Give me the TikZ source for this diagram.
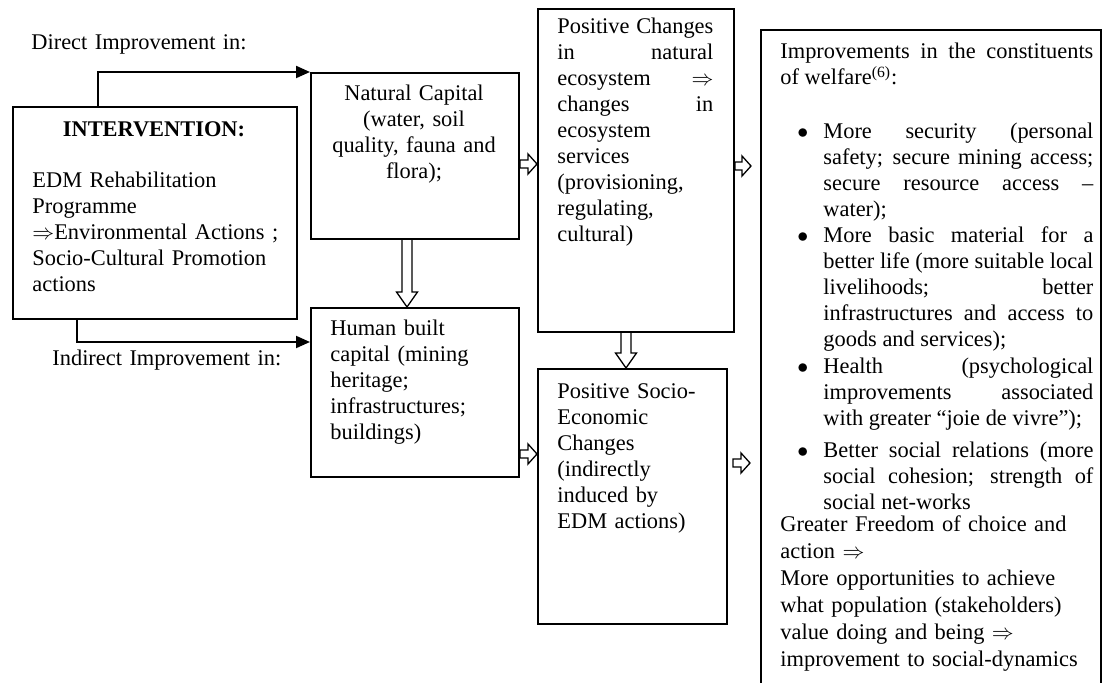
\documentclass[tikz,border=0pt]{standalone}
\usepackage{fontspec}
\setmainfont{Liberation Serif}
\usetikzlibrary{arrows.meta,calc}
\tolerance=10000 \hbadness=10000 \hfuzz=3pt \hyphenpenalty=10000 \exhyphenpenalty=10000
\newcommand{\hollowdown}[2]{%
  \path[holarrow] let \p1=(#1), \p2=(#2) in
   (\x1-2.5pt,\y1) -- (\x1-2.5pt,\y2+7.5pt) -- (\x1-5.25pt,\y2+7.5pt) -- (\x1,\y2)
   -- (\x1+5.25pt,\y2+7.5pt) -- (\x1+2.5pt,\y2+7.5pt) -- (\x1+2.5pt,\y1);}
\newcommand{\hollowright}[2]{%
  \path[holarrow] let \p1=(#1), \p2=(#2) in
   (\x1,\y1-2pt) -- (\x2-4.5pt,\y1-2pt) -- (\x2-4.5pt,\y1-5pt) -- (\x2,\y1)
   -- (\x2-4.5pt,\y1+5pt) -- (\x2-4.5pt,\y1+2pt) -- (\x1,\y1+2pt) -- cycle;}
\newcommand{\bulletmark}{\llap{$\bullet$\hspace{7.5pt}}}
\begin{document}
\begin{tikzpicture}[x=0.5pt,y=-0.5pt,
  font=\fontsize{11.2pt}{13pt}\selectfont,
  box/.style={draw, line width=1pt, inner sep=0pt, anchor=north west},
  txt/.style={inner sep=0pt, anchor=base west, text width=#1, align=left},
  just/.style={inner sep=0pt, anchor=base west, text width=#1, align=justify},
  conn/.style={line width=1pt, -{Triangle[length=7pt,width=6pt]}},
  holarrow/.style={draw, line width=0.65pt, line join=miter}]
\useasboundingbox (0,0) rectangle (1102,683);
\clip (0,0) rectangle (1102,683);

% boxes
\node[box, minimum width=142pt, minimum height=106pt] (iv) at (12,106) {};
\node[box, minimum width=104pt, minimum height=83pt] (nc) at (310,72) {};
\node[box, minimum width=104pt, minimum height=84.5pt] (hbc) at (310,307) {};
\node[box, minimum width=98pt, minimum height=161.5pt] (pc) at (537,8) {};
\node[box, minimum width=94.5pt, minimum height=127.5pt] (pse) at (537,368) {};
\node[box, line width=0.8pt, minimum width=170pt, minimum height=360pt] (rb) at (760,29) {};

% labels outside
\node[txt=140pt] (dirl) at (31,50) {Direct Improvement in:};
\node[txt=140pt] (indl) at (52,366) {Indirect Improvement in:};

% intervention box text
\node[inner sep=0pt, anchor=base] (ivt) at (154,137) {\bfseries INTERVENTION:};
\node[txt=130pt] (ivb) at (32,188) {EDM Rehabilitation\\ Programme\\ $\Rightarrow$Environmental Actions ;\\ Socio-Cultural Promotion\\ actions};

% natural capital
\node[inner sep=0pt, anchor=base, text width=100pt, align=center] (nct) at (414,101) {Natural Capital\\ (water, soil\\ quality, fauna and\\ flora);};

% human built capital
\node[txt=100pt] (hbct) at (330,336) {Human built\\ capital (mining\\ heritage;\\ infrastructures;\\ buildings)};

% positive changes
\node[just=78pt] (pct) at (557,34) {Positive Changes\linebreak in natural\linebreak ecosystem $\Rightarrow$\linebreak changes in\linebreak ecosystem\newline services\newline (provisioning,\newline regulating,\newline cultural)};

% positive socio-economic
\node[txt=90pt] (pset) at (557,399) {Positive Socio-\\ Economic\\ Changes\\ (indirectly\\ induced by\\ EDM actions)};

% right box text
\node[just=156.5pt] (rb0) at (780,59) {Improvements in the constituents\linebreak of welfare\textsuperscript{(6)}:};
\node[just=135pt] (rb1) at (823,139) {\bulletmark More security (personal\linebreak safety; secure mining access;\linebreak secure resource access --\linebreak water);};
\node[just=135pt] (rb2) at (823,243) {\bulletmark More basic material for a\linebreak better life (more suitable local\linebreak livelihoods; better\linebreak infrastructures and access to\linebreak goods and services);};
\node[just=135pt] (rb3) at (823,374) {\bulletmark Health (psychological\linebreak improvements associated\linebreak with greater “joie de vivre”);};
\node[just=135pt] (rb4) at (823,458) {\bulletmark Better social relations (more\linebreak social cohesion; strength of\linebreak social net-works};
\node[txt=160pt, font=\fontsize{11.2pt}{13.5pt}\selectfont] (rb5) at (780,531) {Greater Freedom of choice and\\ action $\Rightarrow$\\ More opportunities to achieve\\ what population (stakeholders)\\ value doing and being $\Rightarrow$\\ improvement to social-dynamics};

% connectors
\draw[conn] ([xshift=43pt]iv.north west) |- (nc.north west);
\draw[conn] ([xshift=32.5pt]iv.south west) |- ([yshift=-17.5pt]hbc.north west);

\hollowdown{[xshift=-4pt]nc.south}{hbc.north}
\hollowdown{[xshift=-5pt]pc.south}{pse.north}
\hollowright{[yshift=-4pt]nc.east}{pc.west}
\hollowright{[yshift=-30.75pt]hbc.east}{pse.west}
\hollowright{[yshift=2.25pt]pc.east}{[xshift=-4.5pt]rb.west}
\hollowright{[xshift=2.5pt,yshift=16.75pt]pse.east}{[xshift=-5pt]rb.west}
\end{tikzpicture}
\end{document}
